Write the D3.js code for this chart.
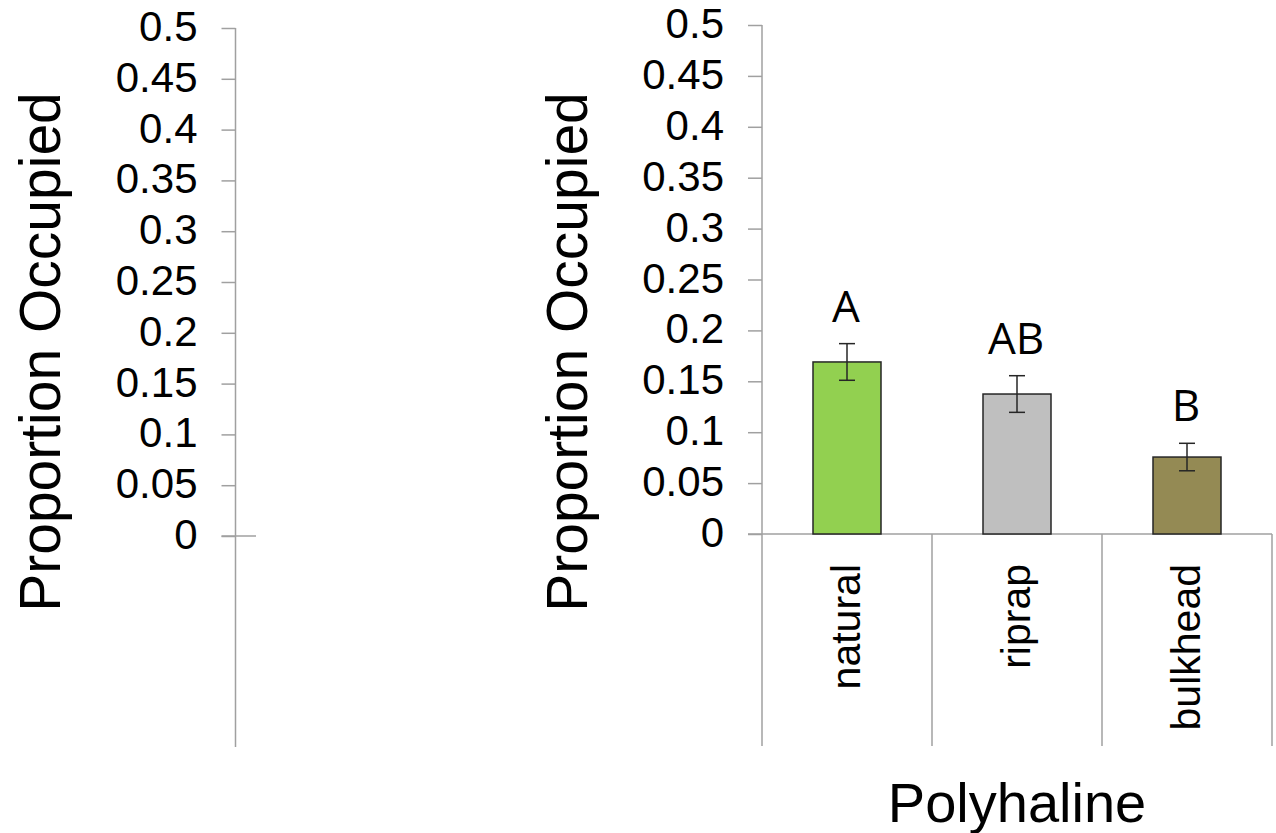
<!DOCTYPE html>
<html>
<head>
<meta charset="utf-8">
<script src="https://cdn.jsdelivr.net/npm/d3@7/dist/d3.min.js"></script>
<style>
  html, body { margin: 0; padding: 0; background: #fff; }
  svg { display: block; }
  text { fill: #000; }
</style>
</head>
<body>
<svg id="chart" width="1276" height="833"></svg>
<script>
// ---- data ----
const categories = ["natural", "riprap", "bulkhead"];
const means = [0.169, 0.1375, 0.0756];
const stdErrors = [0.018, 0.018, 0.0135];
const groupLetters = ["A", "AB", "B"];
const barColors = ["#92D050", "#BFBFBF", "#948A54"];
const yTickValues = [0, 0.05, 0.1, 0.15, 0.2, 0.25, 0.3, 0.35, 0.4, 0.45, 0.5];
const yTickLabels = ["0", "0.05", "0.1", "0.15", "0.2", "0.25", "0.3", "0.35", "0.4", "0.45", "0.5"];
const yTitle = "Proportion Occupied";
const xTitle = "Polyhaline";

const svg = d3.select("#chart");
const axisColor = "#A0A0A0";
const arial = "'Liberation Sans', Arial, sans-serif";

function drawYAxis(g, yScale, axisX, bottomY, zeroExtendTo, titleX) {
  const axis = d3.axisLeft(yScale)
    .tickValues(yTickValues)
    .tickFormat((d, i) => yTickLabels[i])
    .tickSize(14)
    .tickSizeOuter(0)
    .tickPadding(24);
  const ag = g.append("g").attr("transform", `translate(${axisX},0)`).call(axis);
  ag.select(".domain").remove();
  ag.selectAll(".tick line").attr("stroke", axisColor).attr("stroke-width", 1.5);
  ag.selectAll(".tick text")
    .attr("font-size", 42)
    .attr("font-family", arial)
    .attr("fill", "#000")
    .attr("dy", 12.5);
  g.append("line")
    .attr("x1", axisX).attr("x2", axisX)
    .attr("y1", yScale(0.5)).attr("y2", bottomY)
    .attr("stroke", axisColor).attr("stroke-width", 1.5);
  g.append("line")
    .attr("x1", axisX - 14).attr("x2", zeroExtendTo)
    .attr("y1", yScale(0)).attr("y2", yScale(0))
    .attr("stroke", axisColor).attr("stroke-width", 1.5);
  g.append("text")
    .attr("transform", `translate(${titleX},352) rotate(-90)`)
    .attr("text-anchor", "middle")
    .attr("font-family", arial)
    .attr("font-size", 57)
    .text(yTitle);
}

// ---- left (empty) panel ----
const yLeft = d3.scaleLinear().domain([0, 0.5]).range([536, 28]);
drawYAxis(svg.append("g"), yLeft, 235.5, 747, 256, 60);

// ---- right panel ----
const yRight = d3.scaleLinear().domain([0, 0.5]).range([534, 25]);
const x = d3.scaleBand().domain(categories).range([762, 1272]).paddingInner(0).paddingOuter(0);
const rg = svg.append("g");
drawYAxis(rg, yRight, 762, 746, 1272, 587);

categories.forEach((c) => {
  const xr = x(c) + x.bandwidth();
  rg.append("line")
    .attr("x1", xr).attr("x2", xr)
    .attr("y1", yRight(0)).attr("y2", 746)
    .attr("stroke", axisColor).attr("stroke-width", 1.5);
});

const barW = x.bandwidth() * 0.4;
const data = categories.map((c, i) => ({ c, m: means[i], se: stdErrors[i], letter: groupLetters[i], color: barColors[i] }));
const cx = d => x(d.c) + x.bandwidth() / 2;

rg.selectAll("rect.bar").data(data).enter().append("rect")
  .attr("class", "bar")
  .attr("x", d => cx(d) - barW / 2)
  .attr("width", barW)
  .attr("y", d => yRight(d.m))
  .attr("height", d => yRight(0) - yRight(d.m))
  .attr("fill", d => d.color)
  .attr("stroke", "#262626")
  .attr("stroke-width", 1.5);

const capW = 16;
const eb = rg.selectAll("g.err").data(data).enter().append("g").attr("class", "err");
eb.append("line")
  .attr("x1", cx).attr("x2", cx)
  .attr("y1", d => yRight(d.m + d.se)).attr("y2", d => yRight(d.m - d.se));
eb.append("line")
  .attr("x1", d => cx(d) - capW / 2).attr("x2", d => cx(d) + capW / 2)
  .attr("y1", d => yRight(d.m + d.se)).attr("y2", d => yRight(d.m + d.se));
eb.append("line")
  .attr("x1", d => cx(d) - capW / 2).attr("x2", d => cx(d) + capW / 2)
  .attr("y1", d => yRight(d.m - d.se)).attr("y2", d => yRight(d.m - d.se));
eb.selectAll("line").attr("stroke", "#262626").attr("stroke-width", 1.5);

rg.selectAll("text.letter").data(data).enter().append("text")
  .attr("class", "letter")
  .attr("x", d => cx(d) - 1)
  .attr("y", d => yRight(d.m + d.se) - 22)
  .attr("text-anchor", "middle")
  .attr("font-family", "'Open Sans', sans-serif")
  .attr("font-size", 44)
  .text(d => d.letter);

rg.selectAll("text.cat").data(categories).enter().append("text")
  .attr("class", "cat")
  .attr("transform", c => `translate(${x(c) + x.bandwidth() / 2 + 13},564) rotate(-90)`)
  .attr("text-anchor", "end")
  .attr("font-family", arial)
  .attr("font-size", 41)
  .text(c => c);

rg.append("text")
  .attr("x", (x.range()[0] + x.range()[1]) / 2)
  .attr("y", 822)
  .attr("text-anchor", "middle")
  .attr("font-family", arial)
  .attr("font-size", 56)
  .text(xTitle);
</script>
</body>
</html>
